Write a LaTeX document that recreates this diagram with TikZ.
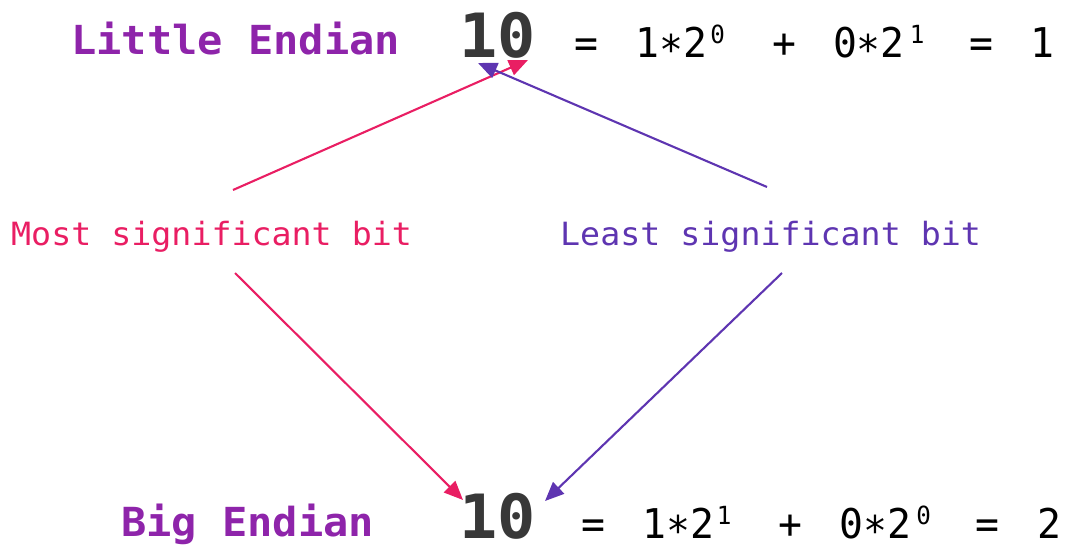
\documentclass[tikz,border=0pt]{standalone}
\usepackage{fontspec}
\setmonofont{DejaVu Sans Mono}
\newfontfamily\titlefont{DejaVu Sans Mono}[FakeStretch=1.05]
\newfontfamily\numfont{DejaVu Sans Mono}[FakeStretch=1.04]
\newfontfamily\labfont{DejaVu Sans Mono}[FakeStretch=1.04]
\newfontfamily\eqfont{DejaVu Sans Mono}[FakeStretch=0.97]
\usetikzlibrary{arrows.meta}
\definecolor{titlepurple}{HTML}{8E24AA}
\definecolor{numgray}{HTML}{383838}
\definecolor{msbpink}{HTML}{E91E63}
\definecolor{lsbpurple}{HTML}{5E35B1}
\newcommand{\supx}[1]{\raisebox{13.7pt}{\fontsize{25}{25}\selectfont #1}}
\newcommand{\eqstar}{\raisebox{-7pt}{*}}
\begin{document}
\begin{tikzpicture}[x=1pt,y=-1pt,
  title/.style={font=\titlefont\bfseries\fontsize{40}{44}\selectfont, text=titlepurple, inner sep=0pt, anchor=base west},
  num/.style={font=\numfont\bfseries\fontsize{61}{66}\selectfont, text=numgray, inner sep=0pt, anchor=base west},
  eqn/.style={font=\eqfont\fontsize{41}{44}\selectfont, text=black, inner sep=0pt, anchor=base west},
  label/.style={font=\labfont\fontsize{32}{38}\selectfont, inner sep=0pt, anchor=base west},
  arr/.style={line width=2.1pt, -{Triangle[length=19pt,width=16pt]}}
]
\useasboundingbox (0,0) rectangle (1076,546);
\node[title] (ltitle) at (71,54.5) {Little Endian};
\node[num] (lnum) at (459,57.5) {10};
\node[eqn] (leq) at (574.5,57) {=\hspace{37pt}1\eqstar2\hspace{3pt}\supx{0}\hspace{47pt}+\hspace{37pt}0\eqstar2\hspace{5pt}\supx{1}\hspace{45pt}=\hspace{37.5pt}1};
\node[label, text=msbpink] (msb) at (11,245) {Most significant bit};
\node[label, text=lsbpurple] (lsb) at (560,245) {Least significant bit};
\node[title] (btitle) at (121,536.5) {Big Endian};
\node[num] (bnum) at (459,538) {10};
\node[eqn] (beq) at (581,538.5) {=\hspace{37pt}1\eqstar2\hspace{3pt}\supx{1}\hspace{47pt}+\hspace{37pt}0\eqstar2\hspace{5pt}\supx{0}\hspace{45pt}=\hspace{37.5pt}2};
\coordinate (m1s) at (233,190);
\coordinate (m1e) at (528,60);
\coordinate (l1s) at (767,187);
\coordinate (l1e) at (478,63);
\coordinate (m2s) at (235,273);
\coordinate (m2e) at (463,500);
\coordinate (l2s) at (782,273);
\coordinate (l2e) at (545,501);
\draw[arr, msbpink] (m1s) -- (m1e);
\draw[arr, lsbpurple] (l1s) -- (l1e);
\draw[arr, msbpink] (m2s) -- (m2e);
\draw[arr, lsbpurple] (l2s) -- (l2e);
\end{tikzpicture}
\end{document}
